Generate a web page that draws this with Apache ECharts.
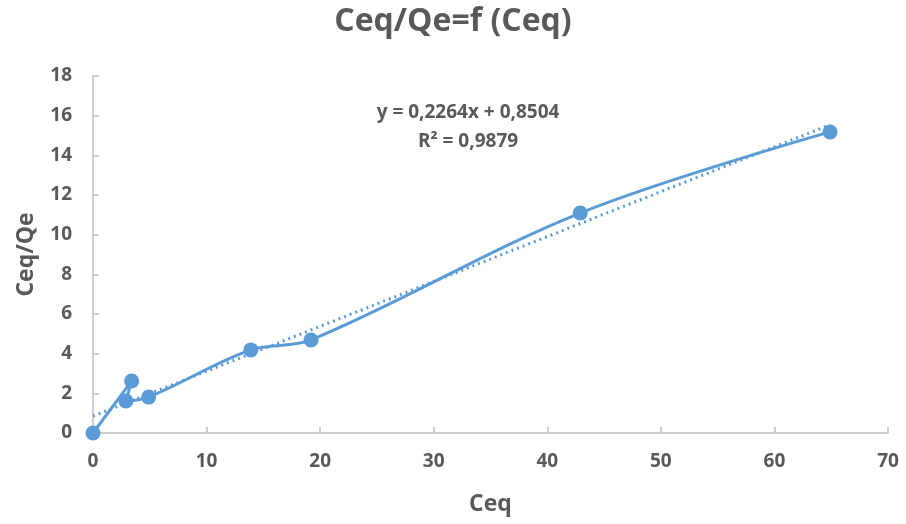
<!DOCTYPE html>
<html><head><meta charset="utf-8">
<script src="https://cdn.jsdelivr.net/npm/echarts@6/dist/echarts.min.js"></script>
<style>html,body{margin:0;padding:0;background:#fff}#c{width:906px;height:524px}</style>
</head><body><div id="c"></div>
<script>
const titleText = 'Ceq/Qe=f (Ceq)';
const xName = 'Ceq';
const yName = 'Ceq/Qe';
const ceq = [0, 3.4, 2.9, 4.9, 13.9, 19.2, 42.9, 64.9];
const ceqQe = [0, 2.62, 1.61, 1.81, 4.19, 4.69, 11.09, 15.18];
const trendX = [0, 64.9];
const trendY = [0.8504, 15.54];
const eqLine1 = 'y = 0,2264x + 0,8504';
const eqLine2 = 'R² = 0,9879';

const grey = '#595959';
const blue = '#5B9BD5';
const font = 'Open Sans';
const chart = echarts.init(document.getElementById('c'));
chart.setOption({
  animation: false,
  title: { text: titleText, left: 'center', top: 1,
    textStyle: { fontFamily: font, fontSize: 32, fontWeight: 'bold', color: grey } },
  grid: { left: 93, right: 18, top: 76, bottom: 91 },
  xAxis: { type: 'value', min: 0, max: 70, interval: 10,
    name: xName, nameLocation: 'middle', nameGap: 60,
    nameTextStyle: { fontFamily: font, fontSize: 23, fontWeight: 'bold', color: grey },
    axisLine: { lineStyle: { color: '#bfbfbf', width: 1.5 } },
    axisTick: { show: true, inside: true, length: 6, lineStyle: { color: '#bfbfbf', width: 1.5 } },
    axisLabel: { fontFamily: font, fontSize: 19, fontWeight: 'bold', color: grey, margin: 19 },
    splitLine: { show: false } },
  yAxis: { type: 'value', min: 0, max: 18, interval: 2,
    name: yName, nameLocation: 'middle', nameGap: 55,
    nameTextStyle: { fontFamily: font, fontSize: 23, fontWeight: 'bold', color: grey },
    axisLine: { show: true, lineStyle: { color: '#bfbfbf', width: 1.5 } },
    axisTick: { show: true, inside: true, length: 6, lineStyle: { color: '#bfbfbf', width: 1.5 } },
    axisLabel: { fontFamily: font, fontSize: 19, fontWeight: 'bold', color: grey, margin: 21 },
    splitLine: { show: false } },
  series: [
    { type: 'line', data: trendX.map((x, i) => [x, trendY[i]]), symbol: 'none',
      lineStyle: { color: blue, width: 3, type: [2, 4] }, z: 2 },
    { type: 'line', data: ceq.map((x, i) => [x, ceqQe[i]]), smooth: 0.35,
      symbol: 'circle', symbolSize: 15,
      itemStyle: { color: blue }, lineStyle: { color: blue, width: 3 }, z: 3 }
  ],
  graphic: [
    { type: 'text', x: 468, y: 113, style: { text: eqLine1, fontFamily: font, fontSize: 19, fontWeight: 'bold', fill: grey, align: 'center', verticalAlign: 'middle' } },
    { type: 'text', x: 468, y: 142, style: { text: eqLine2, fontFamily: font, fontSize: 19, fontWeight: 'bold', fill: grey, align: 'center', verticalAlign: 'middle' } }
  ]
});
</script></body></html>
